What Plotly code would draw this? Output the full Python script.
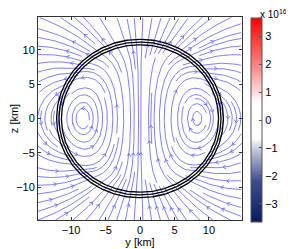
import numpy as np
import plotly.graph_objects as go
import plotly.figure_factory as ff

# ---- data / parameters ----
axis_ticks = [-10, -5, 0, 5, 10]
axis_range = [-14.8, 14.8]
surface_eq = [12.1, 11.75, 11.4]      # equatorial radii of the three surfaces [km]
surface_pol = [11.55, 11.15, 10.75]   # polar radii of the three surfaces [km]
neutral_radius = 8.3                  # position of the closed-loop neutral point [km]
cbar_ticks = [-3, -2, -1, 0, 1, 2, 3]
cbar_limit = 3.65e16
toroidal_field = [[0.0, 0.0], [0.0, 0.0]]   # colour-mapped field (~0 everywhere)

# ---- poloidal field model (flux function psi = y^2 g(rho)) ----
A, C = surface_eq[0], surface_pol[0]
r0 = neutral_radius / A
M = np.array([[1, 1, 1], [2, 4, 6], [2, 4 * r0**2, 6 * r0**4]])
ca, cb, cc = np.linalg.solve(M, [1.0, -1.0, 0.0])

grid = np.linspace(axis_range[0], axis_range[1], 149)
Y, Z = np.meshgrid(grid, grid)
rho2 = (Y / A) ** 2 + (Z / C) ** 2
inside = rho2 < 1
g = np.where(inside, ca + cb * rho2 + cc * rho2**2, rho2 ** -1.5)
dg = np.where(inside, cb + 2 * cc * rho2, -1.5 * rho2 ** -2.5)
By = -Y * dg * 2 * Z / C**2
Bz = 2 * g + Y * dg * 2 * Y / A**2

sfig = ff.create_streamline(grid, grid, By, Bz, density=1.6, arrow_scale=0.5,
                            angle=np.pi / 5,
                            line=dict(color="rgb(90,95,255)", width=0.8))
stream = sfig.data[0]
stream.update(hoverinfo="skip", showlegend=False)

colorscale = [
    [0.0, "#0a1a62"],
    [0.2, "#3d4d8c"],
    [0.36, "#c9cde0"],
    [0.41, "#ffffff"],
    [0.59, "#ffffff"],
    [0.64, "#ffd6d6"],
    [0.8, "#ff7070"],
    [1.0, "#ff0000"],
]

# page body has an 8px margin: figure is shrunk/shifted to compensate
PAGE_OFF = 8
W, H = 294 - PAGE_OFF, 249 - PAGE_OFF
L, T = 38 - PAGE_OFF, 17 - PAGE_OFF
PW, PH = 204, 203

def px_x(sx):
    return (sx - PAGE_OFF - L) / PW

def px_y(sy):
    return (T + PH - (sy - PAGE_OFF)) / PH

fig = go.Figure()
fig.add_trace(go.Heatmap(
    x=axis_range, y=axis_range, z=toroidal_field,
    zmin=-cbar_limit, zmax=cbar_limit, colorscale=colorscale,
    hoverinfo="skip",
    colorbar=dict(
        x=px_x(250.5), xanchor="left", xpad=0,
        y=px_y(120), yanchor="middle", ypad=0,
        len=204, lenmode="pixels", thickness=11,
        outlinecolor="#555", outlinewidth=1,
        tickvals=[t * 1e16 for t in cbar_ticks],
        ticktext=[("\u2212" + str(-t)) if t < 0 else str(t) for t in cbar_ticks],
        ticks="inside", ticklen=3, tickcolor="#555",
        tickfont=dict(size=11, color="black", family="Liberation Sans"),
    ),
))
fig.add_trace(stream)

theta = np.linspace(0, 2 * np.pi, 361)
for a_eq, c_pol in zip(surface_eq, surface_pol):
    fig.add_trace(go.Scatter(x=a_eq * np.cos(theta), y=c_pol * np.sin(theta),
                             mode="lines", line=dict(color="black", width=1.3),
                             hoverinfo="skip", showlegend=False))

fig.add_annotation(text="x 10<sup>16</sup>", xref="paper", yref="paper",
                   x=px_x(259), y=px_y(14.5),
                   xanchor="left", yanchor="middle", showarrow=False,
                   borderpad=0,
                   font=dict(size=10, color="black", family="Liberation Sans"))

axis_common = dict(
    range=axis_range, tickvals=axis_ticks, ticks="inside", ticklen=3,
    tickcolor="#333", showline=True, linecolor="#333", linewidth=1,
    mirror="ticks", showgrid=False, zeroline=False,
    tickfont=dict(size=11, color="black", family="Liberation Sans"),
)
fig.update_xaxes(**axis_common, title=dict(text="y [km]", standoff=2,
                 font=dict(size=11, color="black", family="Liberation Sans")))
fig.update_yaxes(**axis_common, title=dict(text="z [km]", standoff=4,
                 font=dict(size=11, color="black", family="Liberation Sans")))
fig.update_layout(
    width=W, height=H,
    margin=dict(l=L, r=W - L - PW, t=T, b=H - T - PH, autoexpand=False),
    plot_bgcolor="white", paper_bgcolor="white", showlegend=False,
)
fig.write_html("out.html")
